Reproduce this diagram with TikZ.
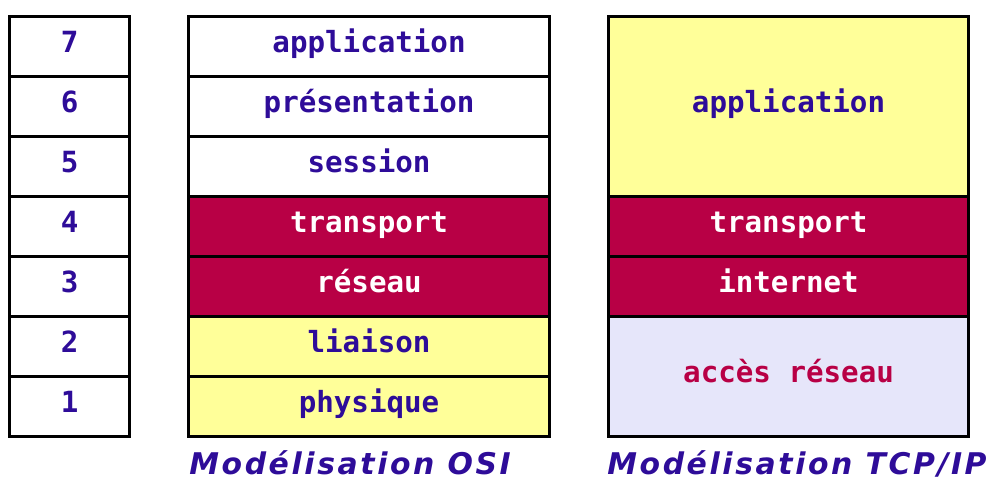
\documentclass[tikz,border=0pt]{standalone}
\usepackage{fontspec}
\usepackage{tikz}
\usetikzlibrary{positioning}
\newfontfamily\monofont{DejaVu Sans Mono}
\newfontfamily\titrefont[LetterSpace=8.7]{DejaVu Sans}
\definecolor{encre}{HTML}{2E0C99}
\definecolor{carmin}{HTML}{B80045}
\definecolor{jaune}{HTML}{FFFF99}
\definecolor{lavande}{HTML}{E6E6FA}
\tikzset{
  couche/.style={draw=black, line width=1.8pt, rectangle, anchor=north west,
    inner sep=0pt, minimum height=1.2cm, text height=0.75em, text depth=0.06em,
    font=\monofont\bfseries\fontsize{16.6}{18}\selectfont, text=encre},
  num/.style={couche, minimum width=2.4cm},
  osi/.style={couche, minimum width=7.22cm},
  tcp/.style={couche, minimum width=7.2cm},
  haut/.style={fill=carmin, text=white},
  bas/.style={fill=jaune},
  titre/.style={anchor=base west, inner sep=0pt, text=encre,
    font=\titrefont\bfseries\itshape\fontsize{17}{20}\selectfont}
}

\begin{document}
\begin{tikzpicture}[x=0.02cm, y=-0.02cm]
		\useasboundingbox (0,0) rectangle (988,480);
		% numeros des couches
		\node[num] (n7) at (8,15) {7};
		\node[num] (n6) at (8,75) {6};
		\node[num] (n5) at (8,135) {5};
		\node[num] (n4) at (8,195) {4};
		\node[num] (n3) at (8,255) {3};
		\node[num] (n2) at (8,315) {2};
		\node[num] (n1) at (8,375) {1};
		% modele OSI
		\node[osi] (application) at (187,15) {application};
		\node[osi] (presentation) at (187,75) {présentation};
		\node[osi] (session) at (187,135) {session};
		\node[osi, haut] (transport) at (187,195) {transport};
		\node[osi, haut] (reseau) at (187,255) {réseau};
		\node[osi, bas] (liaison) at (187,315) {liaison};
		\node[osi, bas] (physique) at (187,375) {physique};
		% modele TCP/IP
		\node[tcp, bas, minimum height=3.6cm] (tcpapp) at (607,15) {application};
		\node[tcp, haut] (tcptrans) at (607,195) {transport};
		\node[tcp, haut] (internet) at (607,255) {internet};
		\node[tcp, fill=lavande, text=carmin, minimum height=2.4cm] (acces) at (607,315) {accès réseau};
		% legendes
		\node[titre] (titreosi) at (189,474) {Modélisation OSI};
		\node[titre] (titretcp) at (607,474) {Modélisation TCP/IP};
	\end{tikzpicture}
\end{document}
